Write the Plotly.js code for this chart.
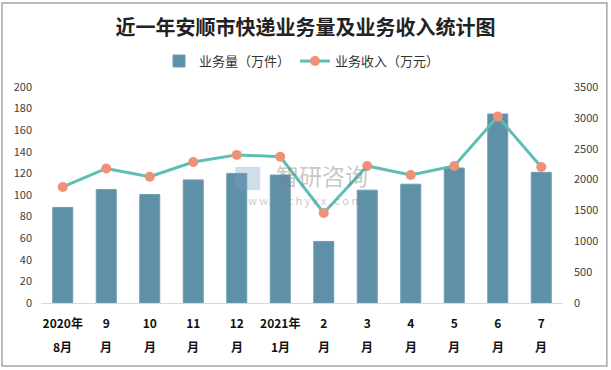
<!DOCTYPE html>
<html><head><meta charset="utf-8">
<script src="https://cdn.plot.ly/plotly-3.0.1.min.js"></script>
<style>html,body{margin:0;padding:0;background:#fff}#c{width:611px;height:370px}</style>
</head><body><div id="c"></div>
<script>
var categories = ["2020年8月","9月","10月","11月","12月","2021年1月","2月","3月","4月","5月","6月","7月"];
var labelTop = ["2020年","9","10","11","12","2021年","2","3","4","5","6","7"];
var labelBottom = ["8月","月","月","月","月","1月","月","月","月","月","月","月"];
var volume = [88.5, 105, 100.5, 114, 120, 118.5, 57, 104.5, 110, 125, 175, 121];
var revenue = [1880, 2180, 2045, 2285, 2400, 2370, 1460, 2220, 2075, 2220, 3020, 2205];
var leftTicks = [0,20,40,60,80,100,120,140,160,180,200];
var rightTicks = [0,500,1000,1500,2000,2500,3000,3500];

var traces = [
  {type:'bar', name:'业务量（万件）', x:categories, y:volume, width:0.46,
   marker:{color:'#5E90A8', line:{color:'#6f9db3', width:1}}, yaxis:'y'},
  {type:'scatter', mode:'lines+markers', name:'业务收入（万元）', x:categories, y:revenue, yaxis:'y2',
   line:{color:'#5CBEB4', width:3}, marker:{color:'#EF9178', size:10}}
];
var annotations = [
  {text:'智研咨询', xref:'paper', yref:'paper', x:0.538, y:0.593, showarrow:false,
   font:{size:23, color:'rgba(130,130,130,0.45)'}},
  {text:'w w w . c h y x x . c o m', xref:'paper', yref:'paper', x:0.506, y:0.479, showarrow:false,
   font:{size:11, color:'rgba(130,130,130,0.45)'}}
];
labelBottom.forEach(function(t,i){
  annotations.push({text:t, xref:'x', yref:'paper', x:categories[i], y:0, yanchor:'middle', yshift:-43,
    showarrow:false, font:{size:12, color:'#111', weight:'bold'}});
});
var layout = {
  width:611, height:370,
  margin:{l:41, r:48, t:87, b:67, autoexpand:false},
  paper_bgcolor:'#fff', plot_bgcolor:'#fff',
  font:{family:'"Noto Sans CJK SC", "Noto Sans", sans-serif', color:'#404040'},
  title:{text:'近一年安顺市快递业务量及业务收入统计图', x:0.5, xanchor:'center', y:0.925, yanchor:'middle',
    font:{size:20, color:'#222', family:'"Noto Sans CJK SC", sans-serif', weight:'bold'}},
  showlegend:true,
  legend:{orientation:'h', x:0.5, xanchor:'center', y:1.12, yanchor:'middle', font:{size:13, color:'#333'},
    itemwidth:30, traceorder:'normal'},
  xaxis:{type:'category', range:[-0.5, 11.5], tickvals:categories, ticktext:labelTop, showgrid:false, showline:true,
    linecolor:'#d9d9d9', linewidth:1, ticks:'', ticklabelstandoff:10, tickfont:{size:12, color:'#111', weight:'bold'}},
  yaxis:{range:[0,200], tickvals:leftTicks, showgrid:false, zeroline:false, showline:false, ticks:'',
    ticklabelstandoff:8, tickfont:{size:11, color:'#404040'}},
  yaxis2:{range:[0,3500], tickvals:rightTicks, overlaying:'y', side:'right', showgrid:false, zeroline:false,
    showline:false, ticks:'', ticklabelstandoff:10, tickfont:{size:11, color:'#404040'}},
  shapes:[
    {type:'rect', xref:'paper', yref:'paper', x0:-0.0747, x1:1.084, y0:-0.292, y1:1.389, line:{color:'#a6a6a6', width:1.5}},
    {type:'rect', xref:'paper', yref:'paper', x0:0.372, x1:0.42, y0:0.523, y1:0.63, line:{width:0}, fillcolor:'rgba(120,160,200,0.35)'}
  ],
  annotations:annotations
};
Plotly.newPlot('c', traces, layout, {displayModeBar:false, staticPlot:true});
</script></body></html>
